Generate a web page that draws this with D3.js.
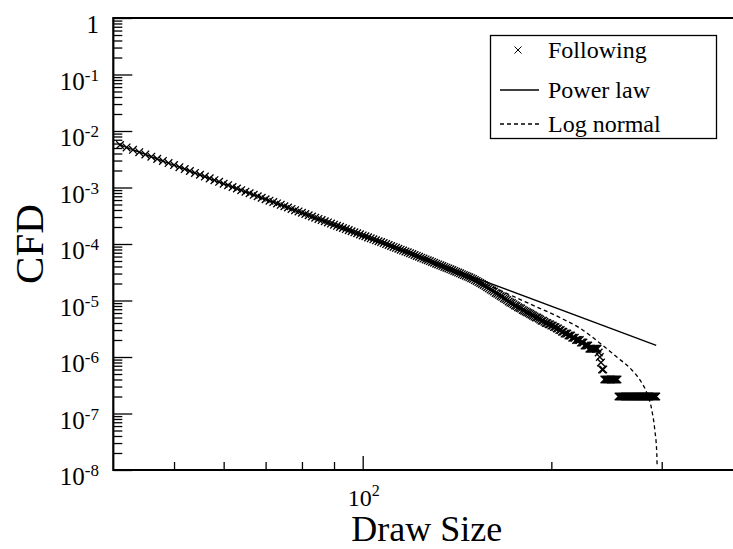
<!DOCTYPE html>
<html><head><meta charset="utf-8">
<script src="https://cdn.jsdelivr.net/npm/d3@7/dist/d3.min.js"></script>
<style>
html,body{margin:0;padding:0;background:#fff;}
svg{display:block;font-family:"Liberation Serif","Times New Roman",serif;}
</style></head>
<body><svg id="chart" width="733" height="549"></svg>
<script>
// ---- data ----
const drawSize = d3.range(41, 295); // integer draw sizes 41..294
const followingCFD = [
5.65e-3,5.12e-3,4.64e-3,4.22e-3,3.85e-3,3.51e-3,3.21e-3,2.95e-3,2.71e-3,2.49e-3,
2.29e-3,2.12e-3,1.96e-3,1.81e-3,1.68e-3,1.56e-3,1.45e-3,1.35e-3,1.26e-3,1.17e-3,
1.10e-3,1.02e-3,9.59e-4,8.98e-4,8.43e-4,7.91e-4,7.43e-4,7.00e-4,6.59e-4,6.20e-4,
5.85e-4,5.53e-4,5.22e-4,4.93e-4,4.66e-4,4.42e-4,4.18e-4,3.97e-4,3.77e-4,3.57e-4,
3.40e-4,3.23e-4,3.07e-4,2.92e-4,2.78e-4,2.65e-4,2.53e-4,2.41e-4,2.30e-4,2.20e-4,
2.10e-4,2.01e-4,1.92e-4,1.84e-4,1.76e-4,1.68e-4,1.61e-4,1.55e-4,1.48e-4,1.42e-4,
1.37e-4,1.31e-4,1.26e-4,1.21e-4,1.16e-4,1.12e-4,1.08e-4,1.04e-4,9.97e-5,9.59e-5,
9.23e-5,8.89e-5,8.55e-5,8.24e-5,7.94e-5,7.65e-5,7.37e-5,7.12e-5,6.87e-5,6.63e-5,
6.38e-5,6.16e-5,5.94e-5,5.73e-5,5.53e-5,5.33e-5,5.16e-5,4.98e-5,4.81e-5,4.66e-5,
4.49e-5,4.35e-5,4.20e-5,4.07e-5,3.93e-5,3.81e-5,3.69e-5,3.56e-5,3.45e-5,3.34e-5,
3.23e-5,3.12e-5,3.03e-5,2.92e-5,2.82e-5,2.74e-5,2.65e-5,2.57e-5,2.48e-5,2.41e-5,
2.30e-5,2.22e-5,2.12e-5,2.04e-5,1.96e-5,1.88e-5,1.80e-5,1.72e-5,1.64e-5,1.56e-5,
1.50e-5,1.44e-5,1.36e-5,1.32e-5,1.26e-5,1.20e-5,1.16e-5,1.10e-5,1.06e-5,1.02e-5,
9.6e-6,9.2e-6,9.0e-6,8.6e-6,8.2e-6,8.0e-6,7.6e-6,7.4e-6,7.2e-6,6.8e-6,
6.6e-6,6.4e-6,6.2e-6,6.0e-6,5.8e-6,5.6e-6,5.4e-6,5.2e-6,5.0e-6,5.0e-6,
4.8e-6,4.6e-6,4.4e-6,4.4e-6,4.2e-6,4.0e-6,4.0e-6,3.8e-6,3.8e-6,3.6e-6,
3.6e-6,3.4e-6,3.4e-6,3.2e-6,3.2e-6,3.0e-6,3.0e-6,2.8e-6,2.8e-6,2.6e-6,
2.6e-6,2.6e-6,2.4e-6,2.4e-6,2.4e-6,2.2e-6,2.2e-6,2.2e-6,2.0e-6,2.0e-6,
2.0e-6,2.0e-6,1.8e-6,1.8e-6,1.8e-6,1.6e-6,1.6e-6,1.6e-6,1.6e-6,1.4e-6,
1.4e-6,1.4e-6,1.4e-6,1.4e-6,1.4e-6,1.4e-6,1.4e-6,1.2e-6,1.0e-6,8e-7,
6e-7,6e-7,4e-7,4e-7,4e-7,4e-7,4e-7,4e-7,4e-7,4e-7,
4e-7,4e-7,4e-7,4e-7,4e-7,2e-7,2e-7,2e-7,2e-7,2e-7,
2e-7,2e-7,2e-7,2e-7,2e-7,2e-7,2e-7,2e-7,2e-7,2e-7,
2e-7,2e-7,2e-7,2e-7,2e-7,2e-7,2e-7,2e-7,2e-7,2e-7,
2e-7,2e-7,2e-7,2e-7,2e-7,2e-7,2e-7,2e-7,2e-7,2e-7,
2e-7,2e-7,2e-7,2e-7
];
const powerLawX = [41, 294];
const powerLawY = [5.65e-3, 1.6e-6];
const logNormalX = [41, 50, 60, 80, 100, 120, 140, 150, 165.4, 186.7, 206.3, 224.4, 238.9, 254.4, 268.8, 278.9, 284.1, 289.3, 292.5, 294.6, 295.0];
const logNormalY = [5.65e-3, 2.49e-3, 1.17e-3, 3.57e-4, 1.40e-4, 6.52e-5, 3.34e-5, 2.46e-5, 1.52e-5, 8.28e-6, 5.0e-6, 3.01e-6, 1.77e-6, 1.0e-6, 5.89e-7, 3.47e-7, 2.31e-7, 1.15e-7, 5.1e-8, 2.0e-8, 1.2e-8];
const yMajorTicks = [1, 1e-1, 1e-2, 1e-3, 1e-4, 1e-5, 1e-6, 1e-7, 1e-8];
const yTickExponents = [0, -1, -2, -3, -4, -5, -6, -7, -8];
const xMajorTicks = [100];
const xMinorTicks = [50, 60, 70, 80, 90, 200, 300];
const xTickExponents = [2];
const seriesNames = ["Following", "Power law", "Log normal"];

// ---- layout ----
const svg = d3.select("#chart");
const L = 113.3, R = 740, T = 18, B = 470;
const x = d3.scaleLog().domain([40, 400]).range([L, R]);
const y = d3.scaleLog().domain([1e-8, 1]).range([B, T]);

const yMinorTicks = [];
for (let e = -8; e < 0; e++) for (let k = 2; k <= 9; k++) yMinorTicks.push(k * Math.pow(10, e));

svg.append("defs").append("clipPath").attr("id", "clip")
  .append("rect").attr("x", L).attr("y", T).attr("width", R - L).attr("height", B - T);

// ticks
function tickAxis(axis, sel) { sel.call(axis); sel.select(".domain").remove(); sel.selectAll("text").remove(); sel.selectAll("line").attr("stroke", "#000").attr("stroke-width", 1.3); }
svg.append("g").attr("transform", `translate(${L},0)`).call(g => tickAxis(d3.axisLeft(y).tickValues(yMajorTicks).tickSize(-19), g));
svg.append("g").attr("transform", `translate(${L},0)`).call(g => tickAxis(d3.axisLeft(y).tickValues(yMinorTicks).tickSize(-9), g));
svg.append("g").attr("transform", `translate(0,${B})`).call(g => tickAxis(d3.axisBottom(x).tickValues(xMajorTicks).tickSize(-14), g));
svg.append("g").attr("transform", `translate(0,${B})`).call(g => tickAxis(d3.axisBottom(x).tickValues(xMinorTicks).tickSize(-8), g));

// frame
svg.append("path").attr("d", `M${R},${T}H${L}V${B}H${R}`).attr("fill", "none").attr("stroke", "#000").attr("stroke-width", 2.2);

// y tick labels
yMajorTicks.forEach((v, i) => {
  const t = svg.append("text").attr("x", 99).attr("y", y(v) + 15).attr("text-anchor", "end").attr("font-size", 25).attr("fill", "#000");
  const e = yTickExponents[i];
  if (e === 0) { t.text("1"); }
  else {
    t.append("tspan").text("10");
    t.append("tspan").attr("font-size", 17).attr("dy", -9).text(String(e));
  }
});
// x tick labels
xMajorTicks.forEach((v, i) => {
  const t = svg.append("text").attr("x", x(v) + 1).attr("y", B + 36).attr("text-anchor", "middle").attr("font-size", 24).attr("fill", "#000");
  t.append("tspan").text("10");
  t.append("tspan").attr("font-size", 16).attr("dy", -10).text(xTickExponents[i]);
});

// axis titles
svg.append("text").attr("x", (L + R) / 2).attr("y", 541).attr("text-anchor", "middle").attr("font-size", 36).text("Draw Size");
svg.append("text").attr("transform", `translate(43,${(T + B) / 2}) rotate(-90)`).attr("text-anchor", "middle").attr("font-size", 41).text("CFD");

// series
const plot = svg.append("g").attr("clip-path", "url(#clip)");
const line = d3.line().x(d => x(d[0])).y(d => y(d[1]));
plot.append("path").datum(powerLawX.map((v, i) => [v, powerLawY[i]]))
  .attr("d", line).attr("fill", "none").attr("stroke", "#000").attr("stroke-width", 1.3);
plot.append("path").datum(logNormalX.map((v, i) => [v, logNormalY[i]]))
  .attr("d", line.curve(d3.curveMonotoneX)).attr("fill", "none").attr("stroke", "#000").attr("stroke-width", 1.3).attr("stroke-dasharray", "4,3");

const s = 3.8;
plot.append("g").selectAll("path").data(drawSize.map((v, i) => [v, followingCFD[i]])).join("path")
  .attr("d", d => { const cx = x(d[0]), cy = y(d[1]); return `M${cx - s},${cy - s}L${cx + s},${cy + s}M${cx - s},${cy + s}L${cx + s},${cy - s}`; })
  .attr("stroke", "#000").attr("stroke-width", 1.3).attr("fill", "none");

// legend
const lg = svg.append("g");
lg.append("rect").attr("x", 490.5).attr("y", 35.5).attr("width", 226).attr("height", 103).attr("fill", "#fff").attr("stroke", "#000").attr("stroke-width", 1.3);
const rows = [50, 90, 124];
lg.append("path").attr("d", `M${518 - 3.5},${rows[0] - 3.5}L${518 + 3.5},${rows[0] + 3.5}M${518 - 3.5},${rows[0] + 3.5}L${518 + 3.5},${rows[0] - 3.5}`).attr("stroke", "#000").attr("stroke-width", 1);
lg.append("line").attr("x1", 500).attr("x2", 539).attr("y1", rows[1]).attr("y2", rows[1]).attr("stroke", "#000").attr("stroke-width", 1.3);
lg.append("line").attr("x1", 500).attr("x2", 539).attr("y1", rows[2]).attr("y2", rows[2]).attr("stroke", "#000").attr("stroke-width", 1.3).attr("stroke-dasharray", "4,3");
const textBase = [58, 98, 132];
seriesNames.forEach((n, i) => lg.append("text").attr("x", 548).attr("y", textBase[i]).attr("font-size", 24).text(n));
</script></body></html>
